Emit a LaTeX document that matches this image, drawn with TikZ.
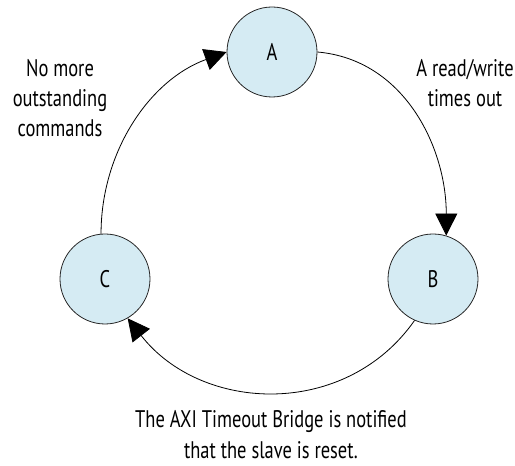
\documentclass[tikz,border=0pt]{standalone}
\usepackage{fontspec}
\setmainfont[FakeStretch=0.77]{PT Sans}
\usetikzlibrary{arrows.meta}
\definecolor{statefill}{RGB}{213,235,243}
\tikzset{
  state/.style={circle,draw=black!85,fill=statefill,line width=0.8pt,minimum size=90pt,inner sep=0pt},
  conn/.style={line width=0.8pt,-{Triangle[length=22pt,width=22pt]}},
  lbl/.style={align=center,inner sep=1pt}
}
\begin{document}
\begin{tikzpicture}[x=1pt,y=1pt,font=\fontsize{24}{30}\selectfont]
\useasboundingbox (0,0) rectangle (515,466);
% states
\node[state] (A) at (272,414) {A};
\node[state] (B) at (433,187) {B};
\node[state] (C) at (105,187) {C};
% transitions
\draw[conn] (A.0) to[out=-5,in=90] (B.73);
\draw[conn] (B.246) to[out=235,in=-52,looseness=1.07] (C.300);
\draw[conn] (C.95) to[out=90,in=200,looseness=0.95] (A.180);
% labels
\node[lbl] (more) at (60,368) {No more\\outstanding\\commands};
\node[lbl] (rw) at (465,383) {A read/write\\times out};
\node[lbl,font=\fontsize{24}{31}\selectfont,text depth=0pt,anchor=south] (reset) at (271,6) {The AXI Timeout Bridge is notified\\that the slave is reset.};
\end{tikzpicture}
\end{document}
